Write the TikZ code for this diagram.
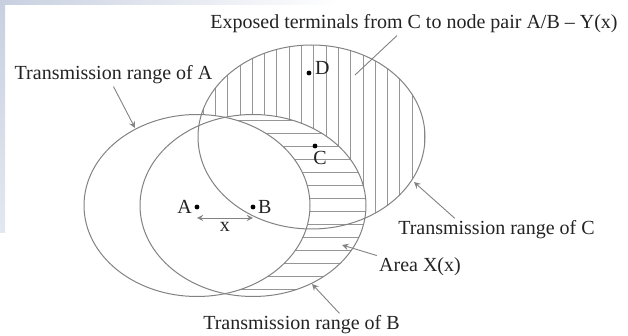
\documentclass[tikz,border=0pt]{standalone}
\usepackage{fontspec}
\setmainfont{Liberation Serif}
\usetikzlibrary{arrows,positioning,calc}
\definecolor{rangegray}{RGB}{130,130,130}
\definecolor{hatchgray}{RGB}{150,150,150}
\definecolor{labelink}{RGB}{35,35,35}
\definecolor{slideblue}{RGB}{200,208,224}

\tikzset{
  rangeline/.style={rangegray, line width=0.5pt},
  hatch/.style={hatchgray, line width=0.4pt},
  pointer/.style={->, >=stealth, rangegray, line width=0.45pt},
  lbl/.style={inner sep=1pt, text=labelink, font=\fontsize{10}{12}\selectfont},
  spot/.style={circle, fill=black, inner sep=0pt, minimum size=2.4pt}
}

\begin{document}
\begin{tikzpicture}[x=0.5pt,y=-0.5pt]
    \useasboundingbox (0,0) rectangle (628,336);
    % slide background strips
    \shade[left color=slideblue, right color=white] (0,0) rectangle (340,5);
    \shade[top color=slideblue, bottom color=slideblue!50] (0,0) rectangle (5,233);
    % centres of the three ranges
    \coordinate (cA) at (197,205.5);
    \coordinate (cB) at (253,205.5);
    \coordinate (cC) at (311.5,137);
    % Y(x): C outside A and B
    \begin{scope}
        \clip (cC) ellipse [x radius=113.5, y radius=92];
        \foreach \xx in {203,215.3,...,432} \draw[hatch] (\xx,40) -- (\xx,240);
    \end{scope}
    \fill[white] (cB) ellipse [x radius=113, y radius=91];
    % X(x): B outside A
    \begin{scope}
        \clip (cB) ellipse [x radius=113, y radius=91];
        \foreach \yy in {120,133,...,300} \draw[hatch] (130,\yy) -- (370,\yy);
    \end{scope}
    \fill[white] (cA) ellipse [x radius=113, y radius=91];
    \draw[rangeline] (cA) ellipse [x radius=113, y radius=91];
    \draw[rangeline] (cB) ellipse [x radius=113, y radius=91];
    \draw[rangeline] (cC) ellipse [x radius=113.5, y radius=92];
    % nodes
    \node[spot] (dotA) at (197,207) {};
    \node[lbl, left=0pt of dotA] (labA) {A};
    \node[spot] (dotB) at (253,207) {};
    \node[lbl, right=0pt of dotB] (labB) {B};
    \node[spot] (dotC) at (315,146) {};
    \node[lbl, below=0pt of dotC, xshift=2.5pt] (labC) {C};
    \node[spot] (dotD) at (309,73) {};
    \node[lbl, right=0.5pt of dotD, yshift=2.5pt] (labD) {D};
    \draw[<->, >=stealth, rangegray, line width=0.4pt] ([yshift=-5.5pt]dotA.center) -- node[lbl, below=1pt] {x} ([yshift=-5.5pt]dotB.center);
    % labels
    \node[lbl] (txtY) at (414,24) {Exposed terminals from C to node pair A/B – Y(x)};
    \node[lbl] (txtA) at (113.5,75) {Transmission range of A};
    \node[lbl] (txtC) at (496.5,230) {Transmission range of C};
    \node[lbl] (txtX) at (420,267) {Area X(x)};
    \node[lbl] (txtB) at (301.5,325) {Transmission range of B};
    \coordinate (tipY) at (355,75);
    \coordinate (tipA) at (135,128);
    \coordinate (tipC) at (414,182);
    \coordinate (tipX) at (342,245);
    \coordinate (tipB) at (312,284);
    \draw[pointer, -] ([xshift=-8.5pt]txtY.south) -- (tipY);
    \draw[pointer] (txtA.south) -- (tipA);
    \draw[pointer] ([xshift=29.5pt]txtC.north west) -- (tipC);
    \draw[pointer] (txtX.north west) -- (tipX);
    \draw[pointer] ([xshift=19pt]txtB.north) -- (tipB);
\end{tikzpicture}
\end{document}
